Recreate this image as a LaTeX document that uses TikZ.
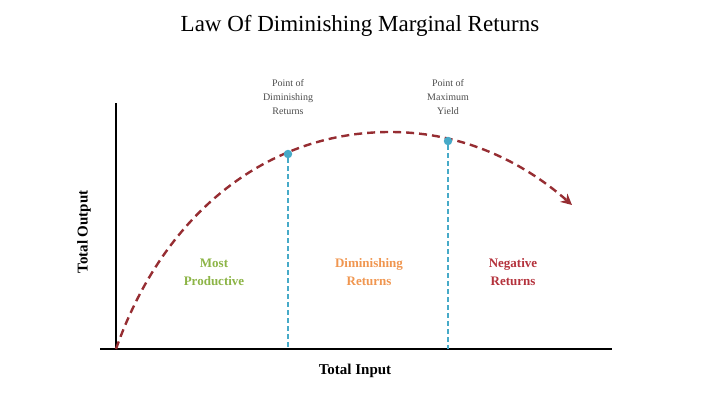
\documentclass[tikz,border=0pt]{standalone}
\usepackage{fontspec}
\setmainfont{Liberation Serif}
\usetikzlibrary{arrows.meta}
\definecolor{curvered}{RGB}{150,45,50}
\definecolor{markblue}{RGB}{70,170,200}
\definecolor{prodgreen}{RGB}{140,180,70}
\definecolor{dimorange}{RGB}{240,150,80}
\definecolor{negred}{RGB}{180,50,60}
\tikzset{
  axis/.style={line width=2.2pt,black},
  guide/.style={markblue,dashed,dash pattern=on 5pt off 3pt,line width=1.6pt},
  pointlabel/.style={font=\fontsize{10}{14}\selectfont,align=center,text=black!70},
  zonelabel/.style={font=\fontsize{13}{18}\selectfont\bfseries,align=center}
}
\begin{document}
\begin{tikzpicture}[x=1pt,y=-1pt]
\useasboundingbox (0,0) rectangle (720,404);
% Title
\node (title) at (360,26) {\fontsize{23}{26}\selectfont Law Of Diminishing Marginal Returns};

% Axes
\coordinate (origin) at (116,349);
\coordinate (ytop) at (116,103);
\coordinate (xleft) at (100,349);
\coordinate (xright) at (612,349);
\draw[axis] (origin) -- (ytop);
\draw[axis] (xleft) -- (xright);
\node[font=\fontsize{15}{18}\selectfont\bfseries] (xlabel) at (355,371) {Total Input};
\node[font=\fontsize{15}{18}\selectfont\bfseries,rotate=90] (ylabel) at (84,232) {Total Output};

% Curve
\coordinate (peak) at (390,132);
\coordinate (tip) at (572,205);
\draw[curvered,line width=2.4pt,dash pattern=on 8pt off 5pt,-{Stealth[length=11pt,width=11pt]}]
  (origin) .. controls (165,210) and (270,132) .. (peak)
           .. controls (470,132) and (530,168) .. (tip);

% Points
\node[circle,fill=markblue,inner sep=3pt] (dim) at (288,154) {};
\node[circle,fill=markblue,inner sep=3pt] (max) at (448,141) {};
\coordinate (dimfoot) at (288,349);
\coordinate (maxfoot) at (448,349);
\draw[guide] (dim) -- (dimfoot);
\draw[guide] (max) -- (maxfoot);
\node[pointlabel] (dimlabel) at (288,97) {Point of\\Diminishing\\Returns};
\node[pointlabel] (maxlabel) at (448,97) {Point of\\Maximum\\Yield};

% Zones
\node[zonelabel,text=prodgreen] (zone1) at (214,272) {Most\\Productive};
\node[zonelabel,text=dimorange] (zone2) at (369,272) {Diminishing\\Returns};
\node[zonelabel,text=negred] (zone3) at (513,272) {Negative\\Returns};
\end{tikzpicture}
\end{document}
